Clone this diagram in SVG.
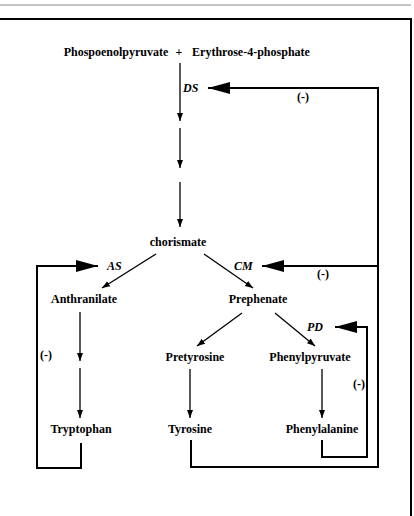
<svg xmlns="http://www.w3.org/2000/svg" width="414" height="516" viewBox="0 0 414 516">
<defs>
<style>
.t{font-family:"Liberation Serif","Times New Roman",serif;font-weight:bold;font-size:12px;fill:#000;text-anchor:middle}
.e{font-family:"Liberation Serif","Times New Roman",serif;font-weight:bold;font-style:italic;font-size:12px;fill:#000}
.a{stroke:#000;stroke-width:1.3;fill:none;marker-end:url(#sa)}
.f{stroke:#000;stroke-width:2;fill:none}
.fa{stroke:#000;stroke-width:2;fill:none;marker-end:url(#ba)}
</style>
<marker id="sa" markerUnits="userSpaceOnUse" viewBox="0 0 8 8" refX="8" refY="4" markerWidth="8" markerHeight="8" orient="auto"><path d="M0,1 L8,4 L0,7 Z" fill="#000"/></marker>
<marker id="ba" markerUnits="userSpaceOnUse" viewBox="0 0 22 12" refX="22" refY="6" markerWidth="22" markerHeight="12" orient="auto"><path d="M0,0 L22,6 L0,12 Z" fill="#000"/></marker>
</defs>
<rect width="414" height="516" fill="#fff"/>
<g id="frame">
<line x1="0" y1="5" x2="411" y2="5" stroke="#888" stroke-width="1"/>
<polyline points="0,19 411,19 411,516" fill="none" stroke="#000" stroke-width="2"/>
</g>
<g id="connectors">
<line class="a" x1="180" y1="63" x2="180" y2="121"/>
<line class="a" x1="180" y1="128" x2="180" y2="168"/>
<line class="a" x1="180" y1="182" x2="180" y2="227"/>
<line class="a" x1="156" y1="254" x2="102" y2="288"/>
<line class="a" x1="204" y1="254" x2="253" y2="288"/>
<line class="a" x1="80" y1="312" x2="80" y2="361"/>
<line class="a" x1="80" y1="368" x2="80" y2="418"/>
<line class="a" x1="242" y1="313" x2="197" y2="346"/>
<line class="a" x1="275" y1="313" x2="315" y2="346"/>
<line class="a" x1="190" y1="369" x2="190" y2="418"/>
<line class="a" x1="322" y1="369" x2="322" y2="418"/>
<polyline class="fa" points="378,266 378,88 208,88"/>
<line class="fa" x1="378" y1="266" x2="262" y2="266"/>
<polyline class="f" points="191,440 191,467 378,467 378,266"/>
<polyline class="fa" points="81,443 81,468 37,468 37,266 98,266"/>
<polyline class="fa" points="322,440 322,457 367,457 367,327 335,327"/>
</g>
<g id="n-start"><text class="t" x="116" y="56">Phospoenolpyruvate</text><text class="t" x="179" y="56">+</text><text class="t" x="251" y="56">Erythrose-4-phosphate</text></g>
<g id="n-chorismate"><text class="t" x="178" y="246">chorismate</text></g>
<g id="n-anthranilate"><text class="t" x="84" y="303">Anthranilate</text></g>
<g id="n-prephenate"><text class="t" x="258" y="303">Prephenate</text></g>
<g id="n-pretyrosine"><text class="t" x="195" y="361">Pretyrosine</text></g>
<g id="n-phenylpyruvate"><text class="t" x="310" y="361">Phenylpyruvate</text></g>
<g id="n-tryptophan"><text class="t" x="81" y="433">Tryptophan</text></g>
<g id="n-tyrosine"><text class="t" x="190" y="433">Tyrosine</text></g>
<g id="n-phenylalanine"><text class="t" x="322" y="433">Phenylalanine</text></g>
<g id="labels">
<text class="e" x="183" y="92">DS</text>
<text class="e" x="107" y="270">AS</text>
<text class="e" x="234" y="270">CM</text>
<text class="e" x="307" y="331">PD</text>
<text class="t" x="303" y="101">(-)</text>
<text class="t" x="323" y="278">(-)</text>
<text class="t" x="46" y="359">(-)</text>
<text class="t" x="359" y="388">(-)</text>
</g>
</svg>
